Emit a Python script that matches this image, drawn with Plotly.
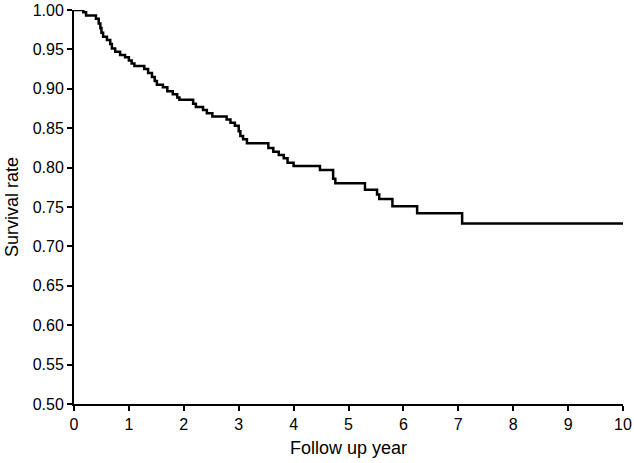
import plotly.graph_objects as go

# Kaplan-Meier survival estimate
follow_up_year = [0, 0.17, 0.22, 0.40, 0.45, 0.48, 0.50, 0.53, 0.60, 0.66, 0.69, 0.75, 0.84, 0.93,
                  1.00, 1.05, 1.10, 1.28, 1.35, 1.42, 1.47, 1.51, 1.62, 1.70, 1.80, 1.88, 1.92,
                  2.17, 2.22, 2.35, 2.42, 2.52, 2.78, 2.85, 2.93, 3.00, 3.03, 3.08, 3.15,
                  3.54, 3.63, 3.73, 3.82, 3.89, 4.00, 4.48, 4.72, 4.76,
                  5.30, 5.52, 5.56, 5.80, 6.25, 7.07, 10.0]
survival_rate = [1.000, 0.997, 0.993, 0.989, 0.983, 0.977, 0.971, 0.966, 0.962, 0.957, 0.951, 0.947, 0.943, 0.940,
                 0.936, 0.932, 0.929, 0.925, 0.920, 0.915, 0.910, 0.905, 0.902, 0.897, 0.893, 0.889, 0.886,
                 0.881, 0.877, 0.873, 0.869, 0.865, 0.861, 0.857, 0.853, 0.846, 0.840, 0.836, 0.831,
                 0.825, 0.820, 0.816, 0.812, 0.806, 0.802, 0.797, 0.786, 0.780,
                 0.772, 0.766, 0.760, 0.751, 0.742, 0.729, 0.729]

x_ticks = list(range(0, 11))
y_ticks = [0.50, 0.55, 0.60, 0.65, 0.70, 0.75, 0.80, 0.85, 0.90, 0.95, 1.00]

fig = go.Figure()
fig.add_trace(go.Scatter(
    x=follow_up_year,
    y=survival_rate,
    mode="lines",
    line=dict(color="black", width=2.5, shape="hv"),
    cliponaxis=False,
    showlegend=False,
))

axis_style = dict(
    showline=True, linecolor="black", linewidth=2,
    ticks="outside", ticklen=5, tickwidth=1.5, tickcolor="black",
    showgrid=False, zeroline=False, automargin=False,
    ticklabeloverflow="allow",
    tickfont=dict(size=16, color="black"),
)

fig.update_layout(
    width=634, height=463,
    margin=dict(l=74, r=11, t=10, b=59),
    paper_bgcolor="white", plot_bgcolor="white",
    font=dict(family="Liberation Sans, Arial, sans-serif", color="black"),
    xaxis=dict(range=[0, 10], tickvals=x_ticks, **axis_style),
    yaxis=dict(range=[0.5, 1.0], tickvals=y_ticks, tickformat=".2f", **axis_style),
)

# axis titles placed as in the reference
fig.add_annotation(text="Follow up year", x=0.5, y=0, xref="x domain", yref="paper",
                   yshift=-44, yanchor="middle", showarrow=False, font=dict(size=18))
fig.add_annotation(text="Survival rate", textangle=-90, x=0, y=0.5, xref="paper", yref="y domain",
                   xshift=-62, xanchor="center", showarrow=False, font=dict(size=18))

# drop the default 8px body margin so the figure fills the window
fig.write_html("out.html", config={"displayModeBar": False},
               post_script="document.body.style.margin='0';document.body.style.overflow='hidden';")
